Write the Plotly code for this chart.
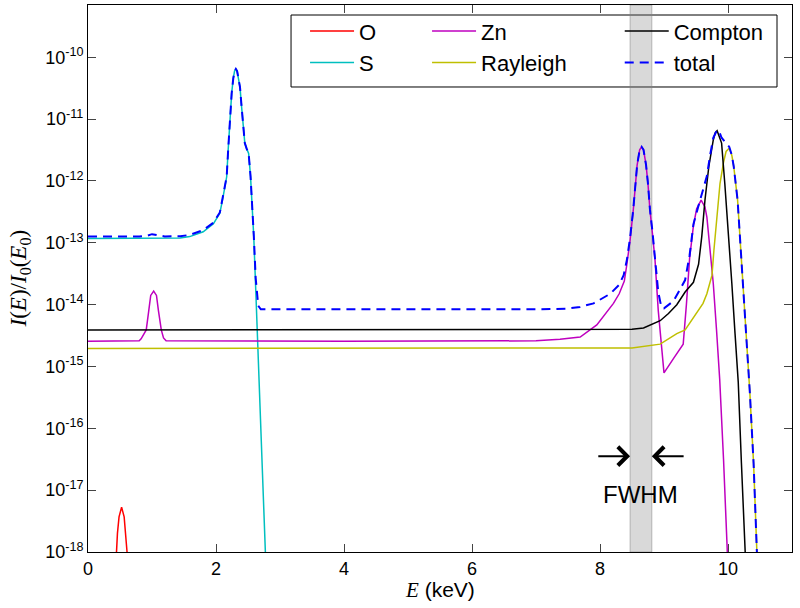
import math
import plotly.graph_objects as go

# ---------------- data (E in keV, I(E)/I0(E0)) ----------------
o_E = [0.42, 0.44, 0.46, 0.485, 0.525, 0.565, 0.59, 0.61, 0.63]
o_I = [3e-19, 1.0e-18, 2.0e-18, 3.7e-18, 5.3e-18, 3.7e-18, 2.0e-18, 1.0e-18, 3e-19]

s_E = [0, 1.0, 1.44, 1.59, 1.80, 1.96, 2.06, 2.11, 2.167, 2.19, 2.22, 2.245, 2.27,
       2.29, 2.31, 2.33, 2.35, 2.375, 2.40, 2.43, 2.45, 2.48, 2.51, 2.54, 2.57,
       2.59, 2.62, 2.66, 2.70, 2.735, 2.77, 2.79]
s_I = [1.17e-13, 1.17e-13, 1.2e-13, 1.26e-13, 1.51e-13, 2.04e-13, 3.0e-13, 5.5e-13,
       1.17e-12, 3.16e-12, 1.1e-11, 2.63e-11, 4.57e-11, 6.0e-11, 6.5e-11, 6.0e-11,
       4.57e-11, 3.3e-11, 1.58e-11, 7.6e-12, 4.1e-12, 3.3e-12, 2.8e-12, 1.17e-12,
       3.4e-13, 1.26e-13, 1.86e-14, 1.35e-15, 1.0e-16, 1.0e-17, 1.0e-18, 3e-19]

zn_E = [0, 0.80, 0.83, 0.87, 0.91, 0.95, 0.98, 1.026, 1.07, 1.10, 1.145, 1.18, 1.22,
        4.0, 7.0, 7.375, 7.69, 7.95, 8.21, 8.30, 8.38, 8.42, 8.47, 8.52, 8.55, 8.58,
        8.62, 8.65, 8.68, 8.72, 8.75, 8.78, 8.82, 8.86, 8.91, 8.96, 9.0, 9.15, 9.30,
        9.35, 9.40, 9.46, 9.51, 9.58, 9.64, 9.67, 9.72, 9.77, 9.82, 9.87, 9.93, 9.99, 10.01]
zn_I = [2.57e-15, 2.6e-15, 2.8e-15, 3.3e-15, 3.9e-15, 8.1e-15, 1.41e-14, 1.66e-14,
        1.41e-14, 8.1e-15, 3.9e-15, 2.9e-15, 2.6e-15,
        2.57e-15, 2.6e-15, 2.75e-15, 3.0e-15, 4.7e-15, 1.05e-14, 1.5e-14, 2.4e-14,
        4.5e-14, 1.1e-13, 3.4e-13, 8.9e-13, 1.8e-12, 3.2e-12, 3.57e-12, 3.2e-12,
        1.8e-12, 8.9e-13, 3.4e-13, 1.4e-13, 5.2e-14, 8.1e-15, 2.3e-15, 7.9e-16,
        1.35e-15, 2.3e-15, 1.0e-14, 5.6e-14, 1.9e-13, 3.55e-13, 4.9e-13, 3.8e-13,
        2.6e-13, 7.6e-14, 2.2e-14, 4.0e-15, 6.3e-16, 3.2e-17, 1.0e-18, 3e-19]

ray_E = [0, 5.0, 8.5, 8.94, 9.2, 9.33, 9.46, 9.61, 9.67, 9.75, 9.78, 9.82, 9.875,
         9.93, 9.97, 10.02, 10.06, 10.09, 10.15, 10.20, 10.25, 10.30, 10.34, 10.40,
         10.45, 10.47]
ray_I = [1.95e-15, 1.95e-15, 2.0e-15, 2.3e-15, 3.4e-15, 3.9e-15, 6.3e-15, 1.05e-14,
         1.5e-14, 3.0e-14, 7.6e-14, 2.2e-13, 9.1e-13, 2.0e-12, 3.0e-12, 3.4e-12,
         2.6e-12, 1.7e-12, 4.9e-13, 7.6e-14, 1.17e-14, 1.8e-15, 4.0e-16, 2.7e-17,
         1.0e-18, 3e-19]

comp_E = [0, 5.0, 8.3, 8.5, 8.68, 8.94, 9.07, 9.2, 9.33, 9.46, 9.54, 9.59, 9.64, 9.70,
          9.77, 9.80, 9.83, 9.87, 9.90, 9.95, 10.01, 10.06, 10.11, 10.16, 10.21,
          10.27, 10.29]
comp_I = [3.9e-15, 3.9e-15, 3.95e-15, 4.0e-15, 4.2e-15, 5.5e-15, 7.2e-15, 1.0e-14,
          1.6e-14, 2.3e-14, 4.5e-14, 1.26e-13, 4.9e-13, 1.7e-12, 4.6e-12, 6.0e-12,
          6.5e-12, 5.2e-12, 4.1e-12, 9.1e-13, 1.4e-13, 2.2e-14, 3.4e-15, 5.6e-16,
          2.7e-17, 1.0e-18, 3e-19]

tot_E = [0, 0.80, 0.92, 1.0, 1.1, 1.2, 1.44, 1.59, 1.80, 1.96, 2.06, 2.11, 2.167,
         2.19, 2.22, 2.245, 2.27, 2.29, 2.31, 2.33, 2.35, 2.375, 2.40, 2.43, 2.45,
         2.48, 2.51, 2.54, 2.57, 2.59, 2.62, 2.66, 2.70, 5.0, 7.0, 7.48, 7.69, 7.90,
         8.16, 8.30, 8.37, 8.42, 8.47, 8.52, 8.55, 8.58, 8.62, 8.65, 8.68, 8.72, 8.75,
         8.78, 8.82, 8.86, 8.91, 8.96, 9.0, 9.15, 9.33, 9.40, 9.46, 9.54, 9.61, 9.67,
         9.72, 9.77, 9.83, 9.87, 9.90, 9.95, 10.02, 10.06, 10.09, 10.15, 10.20, 10.25,
         10.30, 10.34, 10.40, 10.45, 10.47]
tot_I = [1.26e-13, 1.26e-13, 1.30e-13, 1.38e-13, 1.32e-13, 1.27e-13, 1.28e-13,
         1.34e-13, 1.6e-13, 2.12e-13, 3.1e-13, 5.6e-13, 1.18e-12, 3.17e-12, 1.1e-11,
         2.63e-11, 4.57e-11, 6.0e-11, 6.5e-11, 6.0e-11, 4.57e-11, 3.3e-11, 1.58e-11,
         7.6e-12, 4.1e-12, 3.3e-12, 2.8e-12, 1.18e-12, 3.5e-13, 1.34e-13, 2.7e-14,
         9.6e-15, 8.4e-15, 8.3e-15, 8.4e-15, 8.6e-15, 9.2e-15, 1.05e-14, 1.5e-14,
         2.1e-14, 3.0e-14, 5.3e-14, 1.2e-13, 3.5e-13, 9.0e-13, 1.8e-12, 3.2e-12,
         3.57e-12, 3.2e-12, 1.8e-12, 9.0e-13, 3.5e-13, 1.5e-13, 6.0e-14, 1.6e-14,
         9.0e-15, 8.7e-15, 1.15e-14, 2.5e-14, 6.3e-14, 2.0e-13, 4.0e-13, 7.0e-13,
         1.2e-12, 2.6e-12, 5.0e-12, 6.7e-12, 6.0e-12, 5.0e-12, 4.3e-12, 3.55e-12,
         2.6e-12, 1.7e-12, 4.9e-13, 7.6e-14, 1.17e-14, 1.8e-15, 4.0e-16, 2.7e-17,
         1.0e-18, 3e-19]

# FWHM band (keV) and annotation level
fwhm_lo, fwhm_hi = 8.47, 8.81
arrow_len = 0.52
arrow_level = 10 ** -16.45
label_level = 10 ** -17.07

y_tick_exps = [-18, -17, -16, -15, -14, -13, -12, -11, -10]
x_ticks = [0, 2, 4, 6, 8, 10]

# ---------------- figure ----------------
SANS = "Liberation Sans, Arial, Helvetica, sans-serif"
SERIF = "Liberation Serif, Times New Roman, serif"
Y_RANGE = [-18, -9.154]

series = [
    ("O", o_E, o_I, "#ff0000", "solid", 1.5, "legend"),
    ("S", s_E, s_I, "#00bfbf", "solid", 1.5, "legend"),
    ("Zn", zn_E, zn_I, "#bf00bf", "solid", 1.5, "legend2"),
    ("Rayleigh", ray_E, ray_I, "#bfbf00", "solid", 1.5, "legend2"),
    ("Compton", comp_E, comp_I, "#000000", "solid", 1.5, "legend3"),
    ("total", tot_E, tot_I, "#0000ff", "9px,6px", 2, "legend3"),
]

fig = go.Figure()
for name, xs, ys, col, dash, w, lg in series:
    fig.add_trace(go.Scatter(x=xs, y=ys, mode="lines", name=name, legend=lg,
                             hoverinfo="skip",
                             line=dict(color=col, width=w, dash=dash)))

minor_vals = [m * 10.0 ** e for e in range(-18, -9) for m in range(2, 10)]

fig.update_layout(
    width=800, height=608,
    margin=dict(l=88, r=8, t=5, b=56),
    paper_bgcolor="white", plot_bgcolor="white",
    font=dict(family=SANS, size=18, color="black"),
    xaxis=dict(range=[0, 11], tickvals=x_ticks, ticks="inside", ticklen=8,
               tickwidth=1, showline=True, linecolor="black", linewidth=1,
               mirror="ticks", showgrid=False, zeroline=False,
               tickfont=dict(size=18)),
    yaxis=dict(type="log", range=Y_RANGE, tickmode="array",
               tickvals=[10.0 ** e for e in y_tick_exps],
               ticktext=["10<sup>%d</sup>" % e for e in y_tick_exps],
               ticks="inside", ticklen=8, tickwidth=1, showline=True,
               linecolor="black", linewidth=1, mirror="ticks", showgrid=False,
               zeroline=False, tickfont=dict(size=18)),
    # overlay axis carrying the log minor ticks (both sides via mirror)
    yaxis2=dict(type="log", range=Y_RANGE, overlaying="y", anchor="x", side="left",
                tickmode="array", tickvals=minor_vals, showticklabels=False,
                ticks="inside", ticklen=4, tickwidth=1, tickcolor="black",
                showline=True, linecolor="black", linewidth=1, mirror="ticks",
                showgrid=False, zeroline=False),
    showlegend=True,
    hovermode=False,
)

leg_common = dict(orientation="v", yanchor="top", xanchor="left", y=0.9905,
                  bgcolor="rgba(0,0,0,0)", borderwidth=0, itemwidth=44,
                  font=dict(family=SANS, size=22, color="black"),
                  tracegroupgap=0)
fig.update_layout(legend=dict(x=0.3083, **leg_common),
                  legend2=dict(x=0.4816, **leg_common),
                  legend3=dict(x=0.7553, **leg_common))

# legend frame
fig.add_shape(type="rect", xref="paper", yref="paper", x0=0.2884, x1=0.9787,
              y0=0.8501, y1=0.9817, line=dict(color="black", width=1),
              fillcolor="white", layer="below")

# FWHM band
fig.add_shape(type="rect", xref="x", yref="paper", x0=fwhm_lo, x1=fwhm_hi,
              y0=0, y1=1, fillcolor="rgba(128,128,128,0.3)",
              line=dict(color="rgba(128,128,128,0.5)", width=1), layer="below")

ly = math.log10(arrow_level)
fig.add_annotation(x=fwhm_lo, y=ly, ax=fwhm_lo - arrow_len, ay=ly, xref="x", yref="y",
                   axref="x", ayref="y", text="", showarrow=True, arrowhead=4,
                   arrowsize=1.8, arrowwidth=2, arrowcolor="black")
fig.add_annotation(x=fwhm_hi, y=ly, ax=fwhm_hi + arrow_len, ay=ly, xref="x", yref="y",
                   axref="x", ayref="y", text="", showarrow=True, arrowhead=4,
                   arrowsize=1.8, arrowwidth=2, arrowcolor="black")
fig.add_annotation(x=(fwhm_lo + fwhm_hi) / 2, y=math.log10(label_level), xref="x",
                   yref="y", text="FWHM", showarrow=False,
                   font=dict(family=SANS, size=24, color="black"))

# axis titles
fig.add_annotation(xref="paper", yref="paper", x=0.5, y=-0.0695, yanchor="middle",
                   text="<i>E</i><span style='font-family:Liberation Sans'> (keV)</span>",
                   showarrow=False, font=dict(family=SERIF, size=21, color="black"))
fig.add_annotation(xref="paper", yref="paper", x=-0.0966, y=0.5, xanchor="center",
                   yanchor="middle", textangle=-90,
                   text="<i>I</i>(<i>E</i>)/<i>I</i><sub>0</sub>(<i>E</i><sub>0</sub>)",
                   showarrow=False, font=dict(family=SERIF, size=23, color="black"))

fig.write_html("out.html", config={"displayModeBar": False},
               post_script="document.body.style.margin='0';")
